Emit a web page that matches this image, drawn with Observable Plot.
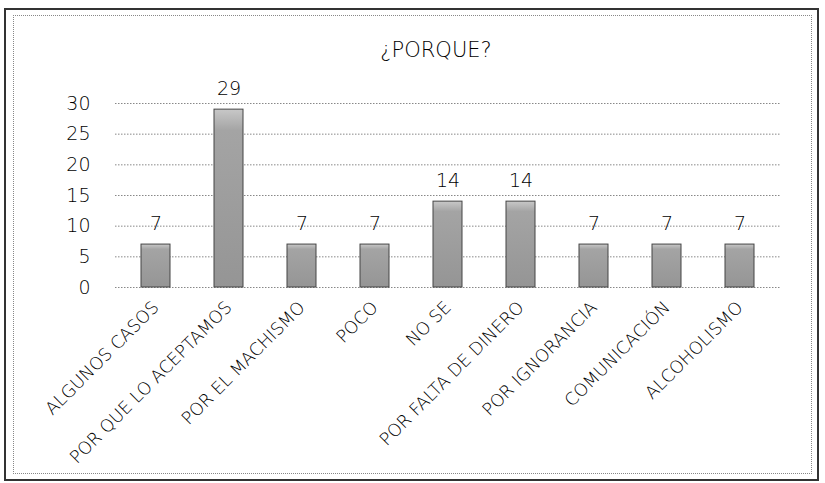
<!DOCTYPE html>
<html>
<head>
<meta charset="utf-8">
<script src="https://cdn.jsdelivr.net/npm/d3@7"></script>
<script src="https://cdn.jsdelivr.net/npm/@observablehq/plot@0.6"></script>
<style>
  html, body { margin: 0; padding: 0; background: #fff; }
  #wrap { position: relative; width: 825px; height: 483px; overflow: hidden; }
  .outer { position: absolute; left: 4px; top: 8px; width: 811px; height: 469px; border: 2px solid #333; box-sizing: content-box; }
  .inner { position: absolute; left: 13px; top: 15px; width: 797px; height: 457px; border: 1px dotted #888; }
  #chart { position: absolute; left: 0; top: 0; }
</style>
</head>
<body>
<div id="wrap">
  <div class="outer"></div>
  <div class="inner"></div>
  <div id="chart"></div>
</div>
<script>
const categories = ["ALGUNOS CASOS", "POR QUE LO ACEPTAMOS", "POR EL MACHISMO", "POCO", "NO SE", "POR FALTA DE DINERO", "POR IGNORANCIA", "COMUNICACIÓN", "ALCOHOLISMO"];
const values = [7, 29, 7, 7, 14, 14, 7, 7, 7];
const yTicks = [0, 5, 10, 15, 20, 25, 30];
const title = "¿PORQUE?";

const data = categories.map((c, i) => ({category: c, value: values[i]}));

const chart = Plot.plot({
  width: 825,
  height: 483,
  marginTop: 103,
  marginBottom: 196,
  marginLeft: 115,
  marginRight: 45,
  style: {background: "transparent", fontFamily: "DejaVu Sans, sans-serif", color: "#000"},
  x: {domain: categories, paddingInner: 0.6, paddingOuter: 0.3, label: null},
  y: {domain: [0, 30], ticks: yTicks, label: null},
  marks: [
    Plot.gridY(yTicks, {stroke: "#888", strokeOpacity: 1, strokeDasharray: "1.5,1.5"}),
    Plot.ruleX([0], {frameAnchor: "left", stroke: "#888", strokeDasharray: "1.5,1.5"}),
    Plot.barY(data, {x: "category", y: "value", fill: "url(#barGrad)", stroke: "#444", strokeWidth: 1}),
    Plot.text(data, {x: "category", y: "value", text: d => String(d.value), dy: -21, fontSize: 19, fill: "#000", fontWeight: 300}),
    Plot.axisY(yTicks, {tickSize: 0, tickPadding: 25, fontSize: 19, fill: "#000", fontWeight: 300, label: null}),
    Plot.axisX({tickSize: 0, tickPadding: 17, tickRotate: -45, fontSize: 17.5, fill: "#000", letterSpacing: "0.6px", fontWeight: 300, label: null}),
    Plot.text([title], {frameAnchor: "top", dy: -61, dx: -12, fontSize: 21, fill: "#000", letterSpacing: "2px", fontWeight: 300})
  ]
});

const svg = d3.select(chart);
const defs = svg.append("defs");
const g = defs.append("linearGradient").attr("id", "barGrad").attr("x1", 0).attr("y1", 0).attr("x2", 0).attr("y2", 1);
g.append("stop").attr("offset", "0%").attr("stop-color", "#c8c8c8");
g.append("stop").attr("offset", "12%").attr("stop-color", "#a4a4a4");
g.append("stop").attr("offset", "100%").attr("stop-color", "#959595");

document.getElementById("chart").appendChild(chart);
</script>
</body>
</html>
